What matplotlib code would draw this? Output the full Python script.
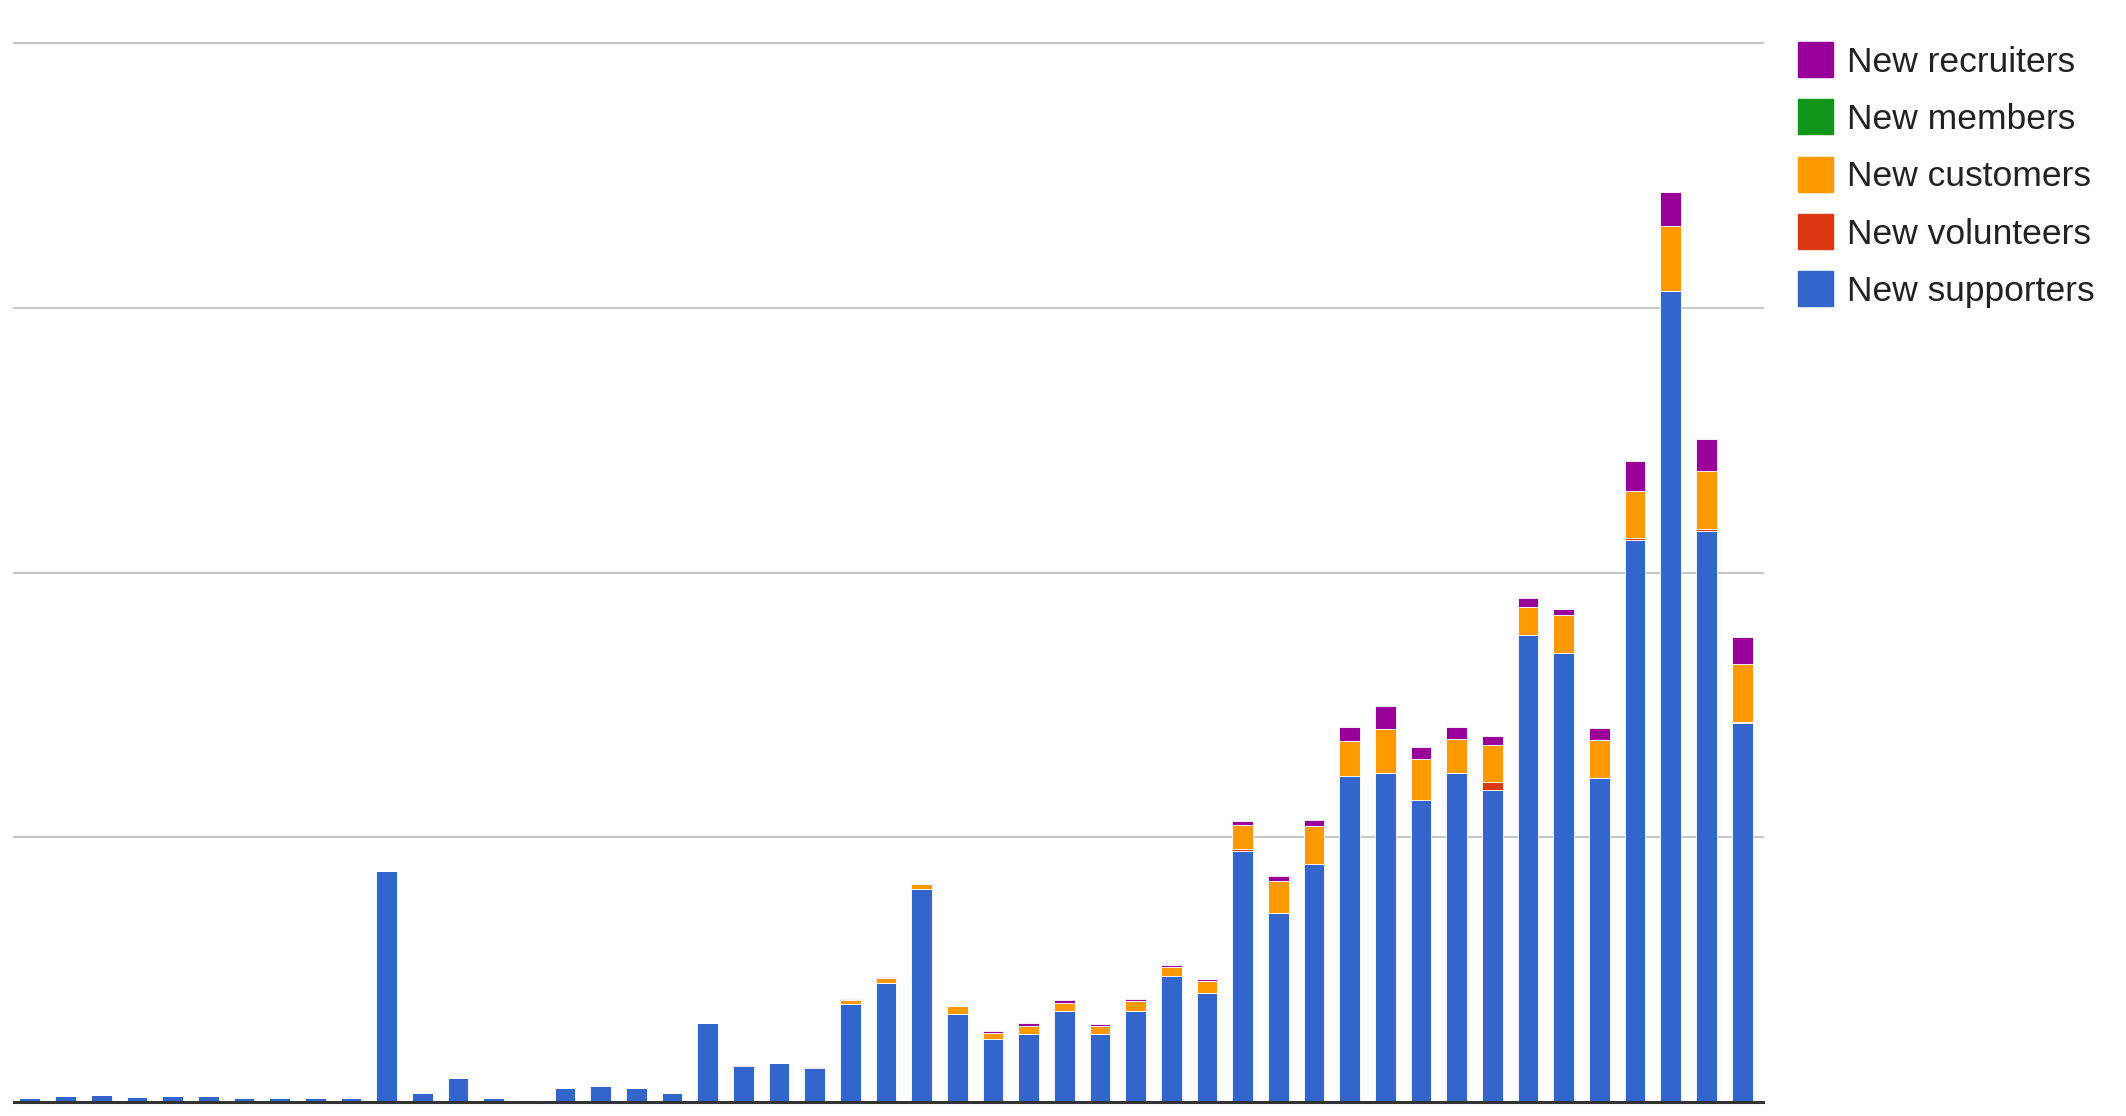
import matplotlib
matplotlib.use("Agg")
import matplotlib.pyplot as plt
from matplotlib.patches import Rectangle
import numpy as np

plt.rcParams['font.family'] = ['Liberation Sans', 'DejaVu Sans']

# values (one gridline step = 100)
supporters = [1.4, 2.3, 2.6, 1.8, 2.3, 2.3, 1.4, 1.4, 1.4, 1.4,
              87.2, 3.3, 8.9, 1.4, 0.6, 5.2, 6.0, 5.2, 3.3, 29.7,
              13.6, 14.6, 12.7, 37.2, 44.8, 80.6, 33.3, 23.9, 25.8, 34.5,
              25.8, 34.5, 47.6, 41.0, 94.9, 71.2, 90.0, 123.3, 124.4, 114.0,
              124.4, 117.7, 176.3, 169.5, 122.3, 212.1, 306.5, 215.8, 143.0]
volunteers = [0] * 34 + [0.6, 0, 0, 0, 0, 0, 0, 3.3, 0, 0, 0, 0.8, 0, 0.5, 0.4]
customers = [0] * 23 + [1.3, 2.0, 1.9, 2.8, 2.2, 3.0, 3.0, 3.0, 3.8, 3.5,
                        4.6, 9.3, 12.2, 14.4, 13.0, 16.5, 15.5, 12.8, 13.8, 10.8,
                        14.5, 14.6, 18.0, 24.2, 22.0, 22.0]
members = [0] * 49
recruiters = [0] * 20 + [0.4, 0, 0.6, 0.5, 0.5, 0, 0, 0.8, 0.9, 1.0,
                         0.7, 0.5, 0.8, 0.8, 1.2, 2.0, 2.1, 5.2, 8.5, 4.7,
                         4.4, 3.5, 3.3, 2.2, 4.5, 11.3, 13.0, 12.2, 10.3]

# stacking order, bottom to top
series = [supporters, volunteers, customers, members, recruiters]
labels = ["New supporters", "New volunteers", "New customers", "New members", "New recruiters"]
colors = ["#3366cc", "#dc3912", "#ff9900", "#109618", "#990099"]

W, H = 2126, 1116
ax_l, ax_r = 12.0, 1760.0
fig = plt.figure(figsize=(W / 100, H / 100), dpi=100)
ax = fig.add_axes([ax_l / W, (H - 1102) / H, (ax_r - ax_l) / W, (1102 - 43) / H])

x = np.arange(len(supporters))
bottom = np.zeros(len(x))
for vals, col in zip(series, colors):
    vals = np.array(vals, dtype=float)
    ax.bar(x, vals, width=0.58, bottom=bottom, color=col,
           edgecolor="white", linewidth=0.6, zorder=2)
    bottom += vals

# gridlines run slightly past the bar area on the right
gx0 = (13.5 - ax_l) / (ax_r - ax_l)
gx1 = (1763 - ax_l) / (ax_r - ax_l)
for g in [100, 200, 300, 400]:
    ax.axhline(g, gx0, gx1, color="#c8c8c8", linewidth=1.5, zorder=1, clip_on=False)
ax.axhline(0, gx0, gx1, color="#333333", linewidth=2.2, zorder=3, clip_on=False)

ax.set_xlim(-0.5, len(x) - 0.5)
ax.set_ylim(0, 400)
ax.set_xticks([])
ax.set_yticks([])
for s in ax.spines.values():
    s.set_visible(False)

# legend, top entry first
row_y = [59.5, 116.8, 174.1, 231.4, 288.7]
for i, (lab, col) in enumerate(zip(labels[::-1], colors[::-1])):
    cy = row_y[i]
    fig.add_artist(Rectangle((1798 / W, (H - cy - 17.5) / H), 35 / W, 35 / H,
                             transform=fig.transFigure, color=col))
    fig.text(1847 / W, (H - cy - 12.2) / H, lab, fontsize=25.5,
             color="#222222", va="baseline", ha="left")

fig.savefig("out.png", dpi=100, facecolor="white")
